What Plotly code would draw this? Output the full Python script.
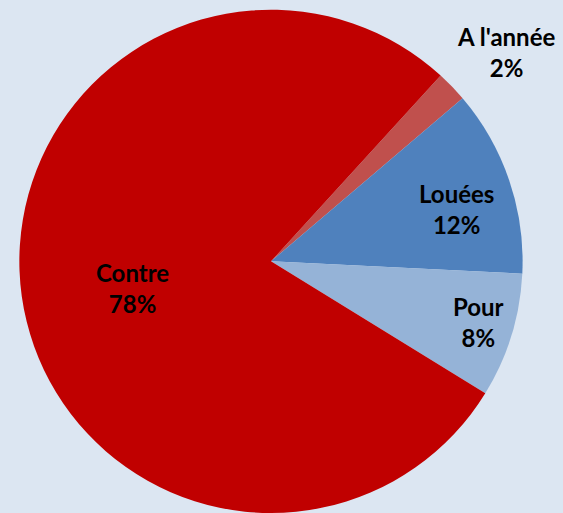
import plotly.graph_objects as go

# slices in clockwise order starting from the top right
labels = ["A l'année", "Louées", "Pour", "Contre"]
values = [2, 12, 8, 78]
colors = ["#C0504D", "#4F81BD", "#95B3D7", "#C00000"]

# where each label sits on the page (paper coords)
label_x = [506 / 563, 456 / 563, 478 / 563, 132 / 563]
label_y = [1 - 52 / 513, 1 - 209 / 513, 1 - 322 / 513, 1 - 288 / 513]

fig = go.Figure()
fig.add_trace(go.Pie(
    labels=labels,
    values=values,
    sort=False,
    direction="clockwise",
    rotation=42.4,
    marker=dict(colors=colors, line=dict(width=0)),
    textinfo="none",
    showlegend=False,
    hoverinfo="label+percent",
    domain=dict(x=[0.0337, 0.9289], y=[0.0, 0.981]),
))

total = sum(values)
for i in range(len(labels)):
    fig.add_annotation(
        x=label_x[i], y=label_y[i], xref="paper", yref="paper",
        text=labels[i] + "<br>" + str(round(values[i] / total * 100)) + "%",
        showarrow=False, xanchor="center", yanchor="middle",
        font=dict(family="Lato", size=24, color="black", weight="bold"),
    )

fig.update_layout(
    width=563, height=513,
    margin=dict(l=0, r=0, t=0, b=0),
    paper_bgcolor="#DCE6F2",
    plot_bgcolor="#DCE6F2",
)

fig.write_html(
    "out.html",
    config={"displayModeBar": False},
    post_script="document.body.style.margin='0';document.body.style.background='#DCE6F2';",
)
